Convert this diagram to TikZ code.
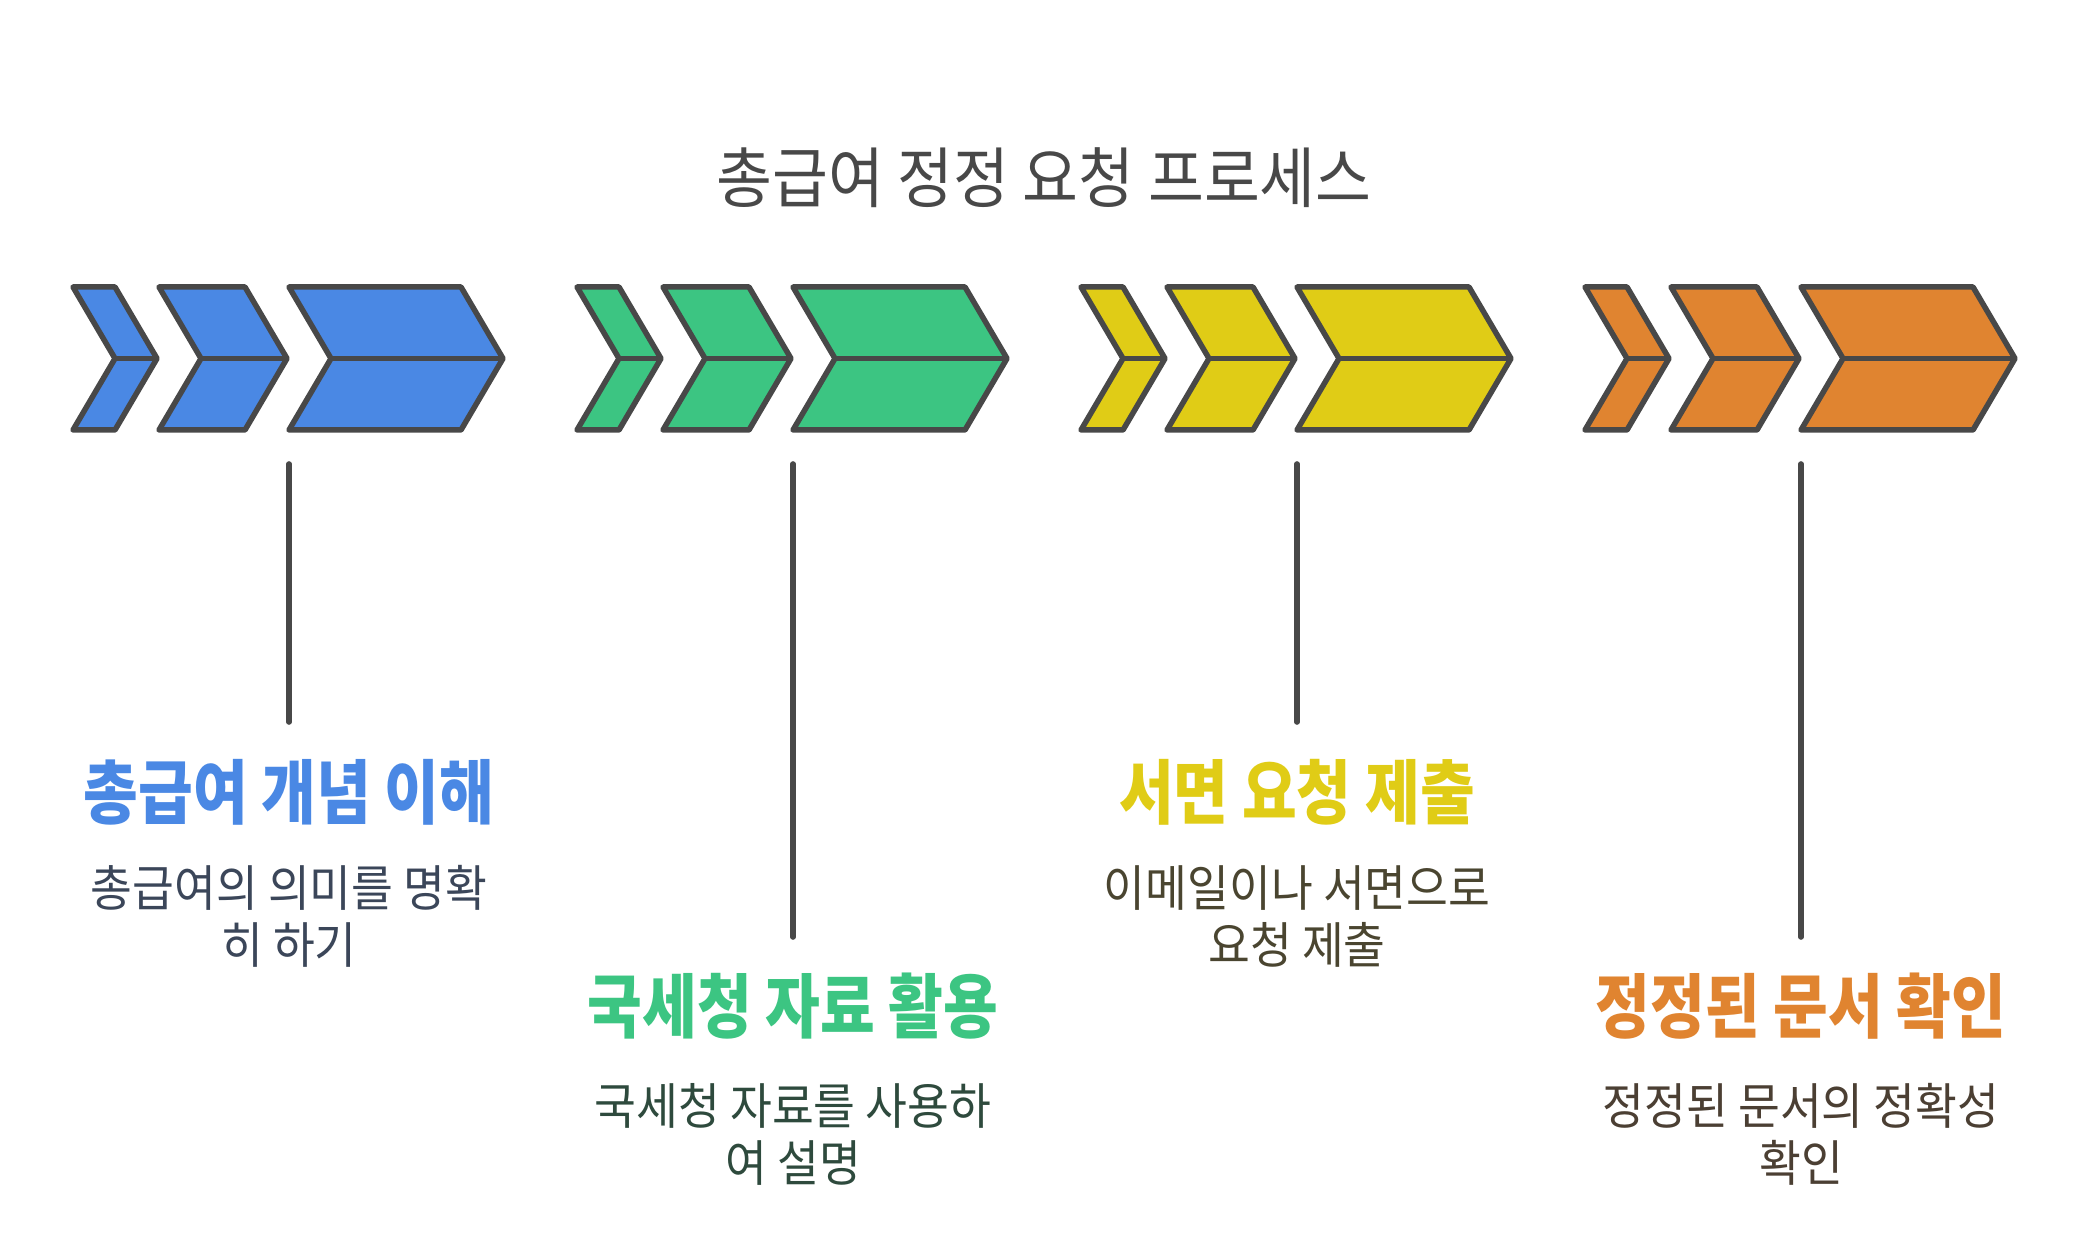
\documentclass[tikz,border=0pt]{standalone}
\usepackage{fontspec}
\usetikzlibrary{positioning}

\newfontfamily\krtitle[FakeStretch=0.92]{Noto Sans CJK KR}
\newfontfamily\krhead[FakeStretch=0.85]{Noto Sans CJK KR}
\newfontfamily\krsub[FakeStretch=0.92]{Noto Sans CJK KR}

\definecolor{stepblue}{HTML}{4A88E4}
\definecolor{stepgreen}{HTML}{3CC582}
\definecolor{stepyellow}{HTML}{E0CC16}
\definecolor{steporange}{HTML}{E08430}
\definecolor{edgegray}{HTML}{484848}
\definecolor{titlegray}{HTML}{484848}
\definecolor{subblue}{HTML}{3B4659}
\definecolor{subgreen}{HTML}{2E4A3D}
\definecolor{subyellow}{HTML}{4A4530}
\definecolor{suborange}{HTML}{4B3F33}

% three chevrons of one stage: #1 = x offset, #2 = fill colour
\newcommand{\stagechevrons}[2]{%
  \foreach \x/\w in {73/42,159/86,289/172}{
    \filldraw[chev, fill=#2] (#1+\x,287) -- ++(\w,0) -- ++(42,71.5) -- ++(-42,71.5)
      -- ++(-\w,0) -- ++(42,-71.5) -- cycle;
    \draw[chev] (#1+\x+42,358.5) -- ++(\w,0);
  }%
}

\begin{document}
\begin{tikzpicture}[x=0.5pt, y=-0.5pt,
    chev/.style={draw=edgegray, line width=2.75pt, line join=round},
    stem/.style={draw=edgegray, line width=2.8pt, line cap=round},
    headtxt/.style={font={\krhead\bfseries\fontsize{35}{40}\selectfont}, inner sep=0pt},
    subtxt/.style={font={\krsub\fontsize{24.7}{28.5}\selectfont}, align=center, inner sep=0pt}]

    \useasboundingbox (0,0) rectangle (2088,1235);

    % 제목
    \node[font={\krtitle\fontsize{33}{38}\selectfont}, text=titlegray, inner sep=0pt] (title) at (1044,178) {총급여 정정 요청 프로세스};

    % 화살표
    \stagechevrons{0}{stepblue}
    \stagechevrons{504}{stepgreen}
    \stagechevrons{1008}{stepyellow}
    \stagechevrons{1512}{steporange}

    % 세로선
    \coordinate (s1) at (289,464);
    \coordinate (e1) at (289,722);
    \coordinate (s2) at (793,464);
    \coordinate (e2) at (793,937);
    \coordinate (s3) at (1297,464);
    \coordinate (e3) at (1297,722);
    \coordinate (s4) at (1801,464);
    \coordinate (e4) at (1801,937);
    \draw[stem] (s1) -- (e1);
    \draw[stem] (s2) -- (e2);
    \draw[stem] (s3) -- (e3);
    \draw[stem] (s4) -- (e4);

    % 단계 제목과 설명
    \node[headtxt, text=stepblue] (h1) at (289,792) {총급여 개념 이해};
    \node[subtxt, text=subblue] (d1) at (289,916) {총급여의 의미를 명확\\히 하기};
    \node[headtxt, text=stepgreen] (h2) at (793,1006) {국세청 자료 활용};
    \node[subtxt, text=subgreen] (d2) at (793,1134) {국세청 자료를 사용하\\여 설명};
    \node[headtxt, text=stepyellow] (h3) at (1297,792) {서면 요청 제출};
    \node[subtxt, text=subyellow] (d3) at (1297,916) {이메일이나 서면으로\\요청 제출};
    \node[headtxt, text=steporange] (h4) at (1801,1006) {정정된 문서 확인};
    \node[subtxt, text=suborange] (d4) at (1801,1134) {정정된 문서의 정확성\\확인};

\end{tikzpicture}
\end{document}
